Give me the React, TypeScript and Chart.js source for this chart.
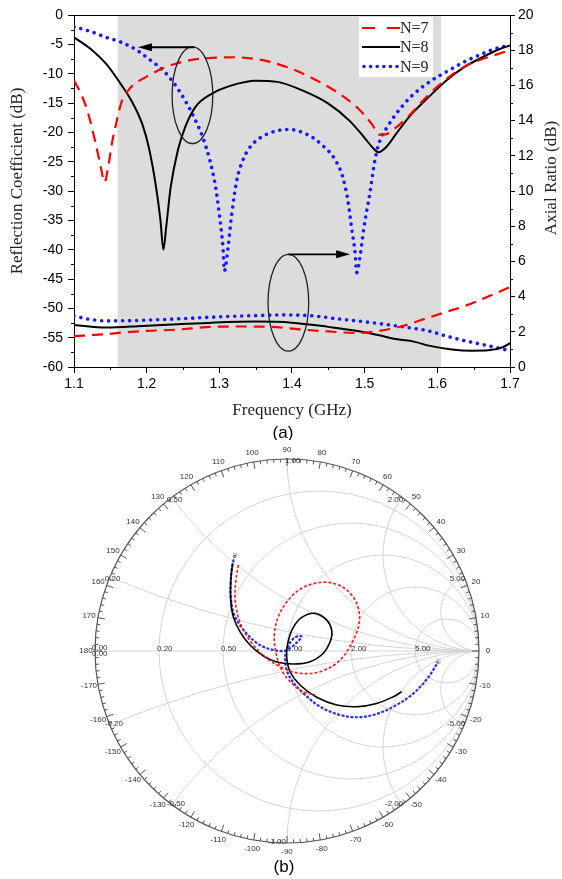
import React, { useEffect, useRef } from 'react';
import { Chart, registerables } from 'chart.js';
Chart.register(...registerables);

const SERIF = '"Liberation Serif","Times New Roman",serif';
const SANS = '"Liberation Sans",Arial,sans-serif';

// ---------- (a) Reflection coefficient (dB), left axis ----------
const s11FreqN7 = [1.10, 1.11, 1.12, 1.13, 1.137, 1.142, 1.147, 1.152, 1.158, 1.165, 1.175, 1.19, 1.20, 1.22, 1.24, 1.26, 1.29, 1.32, 1.35, 1.37, 1.40, 1.43, 1.46, 1.49, 1.51, 1.52, 1.53, 1.54, 1.56, 1.58, 1.60, 1.62, 1.64, 1.66, 1.68, 1.70];
const s11N7 = [-11.2, -13.5, -17, -22, -26, -28.5, -26, -22, -18.5, -15, -12.8, -11.2, -10.5, -9.2, -8.3, -7.7, -7.3, -7.2, -7.5, -8, -9.2, -10.9, -13, -15.8, -18.6, -20.4, -20.3, -19.5, -17.3, -14.6, -12.2, -10.2, -8.6, -7.6, -6.8, -6.0];

const s11FreqN8 = [1.10, 1.125, 1.144, 1.164, 1.179, 1.194, 1.203, 1.213, 1.219, 1.223, 1.227, 1.233, 1.243, 1.253, 1.267, 1.29, 1.317, 1.35, 1.38, 1.415, 1.45, 1.479, 1.499, 1.511, 1.519, 1.529, 1.543, 1.563, 1.588, 1.612, 1.637, 1.662, 1.686, 1.70];
const s11N8 = [-3.8, -6, -8.3, -11.7, -14.6, -18.6, -22.6, -29.4, -35, -40, -36, -29.4, -23, -19.1, -15.7, -13.4, -12, -11.2, -11.4, -12.9, -15.1, -18, -20.8, -22.6, -23.4, -22.6, -20.3, -17.1, -14, -11.2, -8.9, -7.2, -5.8, -5.2];

const s11FreqN9 = [1.10, 1.125, 1.144, 1.164, 1.184, 1.203, 1.223, 1.238, 1.253, 1.265, 1.277, 1.287, 1.295, 1.30, 1.305, 1.307, 1.312, 1.317, 1.324, 1.334, 1.346, 1.366, 1.395, 1.42, 1.44, 1.46, 1.47, 1.477, 1.482, 1.487, 1.489, 1.494, 1.499, 1.507, 1.514, 1.521, 1.531, 1.543, 1.563, 1.588, 1.612, 1.637, 1.662, 1.686, 1.70];
const s11N9 = [-2, -2.9, -3.8, -4.6, -5.8, -7.5, -9.5, -11.7, -14.6, -17.4, -20.8, -24.8, -29.4, -34, -39.6, -43.6, -39.6, -34, -28.2, -24.3, -22, -20.3, -19.5, -20.3, -22, -24.8, -27.7, -31.7, -36.2, -40.8, -43.9, -40.8, -36.2, -30.5, -24.8, -21.4, -19.1, -16.9, -14, -11.5, -9.7, -8, -6.6, -5.5, -5.2];

// ---------- (a) Axial ratio (dB), right axis ----------
const arFreqN7 = [1.10, 1.14, 1.17, 1.20, 1.24, 1.29, 1.33, 1.37, 1.41, 1.45, 1.49, 1.52, 1.55, 1.58, 1.61, 1.64, 1.67, 1.70];
const arN7 = [1.75, 1.85, 1.97, 2.05, 2.12, 2.28, 2.3, 2.28, 2.14, 2.02, 1.93, 2.05, 2.3, 2.7, 3.1, 3.5, 4.0, 4.55];

const arFreqN8 = [1.10, 1.144, 1.194, 1.243, 1.29, 1.35, 1.40, 1.45, 1.49, 1.52, 1.54, 1.565, 1.59, 1.62, 1.647, 1.67, 1.69, 1.70];
const arN8 = [2.39, 2.24, 2.33, 2.43, 2.52, 2.58, 2.52, 2.28, 2.05, 1.8, 1.6, 1.47, 1.2, 1.0, 0.93, 0.95, 1.12, 1.35];

const arFreqN9 = [1.10, 1.12, 1.144, 1.2, 1.25, 1.3, 1.35, 1.39, 1.43, 1.46, 1.51, 1.56, 1.588, 1.612, 1.637, 1.663, 1.695, 1.70];
const arN9 = [2.9, 2.72, 2.62, 2.66, 2.75, 2.85, 2.92, 2.96, 2.9, 2.75, 2.52, 2.24, 2.05, 1.76, 1.5, 1.27, 0.97, 0.92];

const seriesNames = ['N=7', 'N=8', 'N=9'];
const shadedBand = [1.16, 1.605];

// ---------- (b) Smith chart trajectories (reflection coefficient, re / im) ----------
const smithN7: number[][] = [
  [-0.253, 0.448], [-0.266, 0.370], [-0.271, 0.283], [-0.259, 0.196], [-0.227, 0.109], [-0.175, 0.031],
  [-0.106, -0.038], [-0.019, -0.090], [0.068, -0.116], [0.172, -0.108], [0.267, -0.056], [0.337, 0.040],
  [0.377, 0.153], [0.363, 0.248], [0.311, 0.318], [0.241, 0.353], [0.163, 0.356], [0.077, 0.327],
  [0.007, 0.266], [-0.045, 0.179], [-0.066, 0.083], [-0.057, -0.012], [-0.028, -0.099], [0.024, -0.168],
  [0.085, -0.212], [0.146, -0.229],
];
const smithN8: number[][] = [
  [-0.283, 0.457], [-0.293, 0.370], [-0.293, 0.266], [-0.280, 0.179], [-0.245, 0.101], [-0.193, 0.031],
  [-0.123, -0.026], [-0.054, -0.057], [0.033, -0.068], [0.120, -0.056], [0.189, -0.012], [0.228, 0.057],
  [0.233, 0.109], [0.207, 0.161], [0.146, 0.196], [0.077, 0.175], [0.030, 0.118], [0.004, 0.040],
  [-0.002, -0.030], [0.016, -0.108], [0.068, -0.177], [0.155, -0.241], [0.259, -0.281], [0.363, -0.290],
  [0.467, -0.273], [0.554, -0.238], [0.597, -0.212],
];
const smithN9: number[][] = [
  [-0.271, 0.500], [-0.286, 0.439], [-0.293, 0.353], [-0.292, 0.266], [-0.271, 0.179], [-0.219, 0.101],
  [-0.149, 0.036], [-0.071, 0.005], [-0.010, 0.002], [0.030, 0.026], [0.064, 0.057], [0.077, 0.074],
  [0.059, 0.078], [0.030, 0.061], [0.004, 0.022], [-0.009, -0.030], [-0.002, -0.099], [0.030, -0.160],
  [0.085, -0.220], [0.172, -0.290], [0.276, -0.333], [0.371, -0.345], [0.467, -0.328], [0.554, -0.290],
  [0.649, -0.229], [0.728, -0.147], [0.788, -0.056],
];
const smithGridValues = [0.2, 0.5, 1, 2, 5];

// callout ellipses + arrows for (a), in data units (freq, left-axis dB)
const callouts = [
  { cx: 1.263, cy: -13.7, rx: 0.028, ry: 8.25, from: 1.265, to: 1.188, ay: -5.5 },
  { cx: 1.395, cy: -49.05, rx: 0.028, ry: 8.25, from: 1.395, to: 1.48, ay: -40.8 },
];

const toXY = (xs: number[], ys: number[]) => xs.map((x, i) => ({ x, y: ys[i] }));

const RED = '#ff0000';
const BLACK = '#000000';
const BLUE = '#1a1aff';

const decorA = {
  id: 'decorA',
  beforeDatasetsDraw(chart: any) {
    const { ctx, chartArea: a, scales } = chart;
    const x = scales.x;
    ctx.save();
    ctx.fillStyle = '#dcdcdc';
    const x0 = x.getPixelForValue(shadedBand[0]);
    const x1 = x.getPixelForValue(shadedBand[1]);
    ctx.fillRect(x0, a.top, x1 - x0, a.bottom - a.top);
    ctx.restore();
  },
  afterDatasetsDraw(chart: any) {
    const { ctx, chartArea: a, scales } = chart;
    const x = scales.x, y = scales.y, y2 = scales.y2;
    ctx.save();
    // top border
    ctx.strokeStyle = '#000';
    ctx.lineWidth = 1;
    ctx.beginPath();
    ctx.moveTo(a.left, a.top + 0.5);
    ctx.lineTo(a.right, a.top + 0.5);
    ctx.stroke();
    // minor ticks
    ctx.beginPath();
    for (let v = 1.15; v < 1.7; v += 0.1) {
      const px = Math.round(x.getPixelForValue(v)) + 0.5;
      ctx.moveTo(px, a.bottom);
      ctx.lineTo(px, a.bottom + 3);
    }
    for (let v = -57.5; v < 0; v += 5) {
      const py = Math.round(y.getPixelForValue(v)) + 0.5;
      ctx.moveTo(a.left - 3, py);
      ctx.lineTo(a.left, py);
    }
    for (let v = 1; v < 20; v += 2) {
      const py = Math.round(y2.getPixelForValue(v)) + 0.5;
      ctx.moveTo(a.right, py);
      ctx.lineTo(a.right + 3, py);
    }
    ctx.stroke();

    // callouts
    callouts.forEach((c) => {
      const cx = x.getPixelForValue(c.cx);
      const cy = y.getPixelForValue(c.cy);
      const rx = Math.abs(x.getPixelForValue(c.cx + c.rx) - cx);
      const ry = Math.abs(y.getPixelForValue(c.cy + c.ry) - cy);
      ctx.strokeStyle = '#222';
      ctx.lineWidth = 1.3;
      ctx.beginPath();
      ctx.ellipse(cx, cy, rx, ry, 0, 0, Math.PI * 2);
      ctx.stroke();
      const ay = y.getPixelForValue(c.ay);
      const ax0 = x.getPixelForValue(c.from);
      const ax1 = x.getPixelForValue(c.to);
      const dir = Math.sign(ax1 - ax0);
      const head = 14;
      ctx.lineWidth = 1.8;
      ctx.strokeStyle = '#000';
      ctx.beginPath();
      ctx.moveTo(ax0, ay);
      ctx.lineTo(ax1 - dir * head, ay);
      ctx.stroke();
      ctx.fillStyle = '#000';
      ctx.beginPath();
      ctx.moveTo(ax1, ay);
      ctx.lineTo(ax1 - dir * head, ay - 4);
      ctx.lineTo(ax1 - dir * head, ay + 4);
      ctx.closePath();
      ctx.fill();
    });

    // legend
    const lx = 359, ly = 17, lw = 74, lh = 60;
    ctx.fillStyle = '#ffffff';
    ctx.fillRect(lx, ly, lw, lh);
    const rows = [28, 47, 66.5];
    const styles = [
      { color: RED, width: 2.2, dash: [13, 12], cap: 'butt' },
      { color: BLACK, width: 2, dash: [], cap: 'butt' },
      { color: BLUE, width: 3.6, dash: [0.01, 6.6], cap: 'round' },
    ];
    rows.forEach((ry, i) => {
      const s = styles[i];
      ctx.save();
      ctx.strokeStyle = s.color;
      ctx.lineWidth = s.width;
      ctx.setLineDash(s.dash);
      ctx.lineCap = s.cap as CanvasLineCap;
      ctx.beginPath();
      ctx.moveTo(i === 2 ? 364 : 362, ry);
      ctx.lineTo(400, ry);
      ctx.stroke();
      ctx.restore();
      ctx.fillStyle = '#222';
      ctx.font = `16px ${SERIF}`;
      ctx.textAlign = 'left';
      ctx.textBaseline = 'middle';
      ctx.fillText(seriesNames[i], 400, ry + 1);
    });

    // axis titles
    ctx.fillStyle = '#222';
    ctx.font = `17px ${SERIF}`;
    ctx.textAlign = 'center';
    ctx.textBaseline = 'middle';
    ctx.fillText('Frequency (GHz)', (a.left + a.right) / 2, 411);
    ctx.save();
    ctx.translate(18, 181);
    ctx.rotate(-Math.PI / 2);
    ctx.fillText('Reflection Coefficient (dB)', 0, 0);
    ctx.restore();
    ctx.save();
    ctx.translate(552, 178);
    ctx.rotate(-Math.PI / 2);
    ctx.fillText('Axial Ratio (dB)', 0, 0);
    ctx.restore();
    ctx.fillStyle = '#000';
    ctx.font = `17px ${SANS}`;
    ctx.fillText('(a)', 283, 433);
    ctx.restore();
  },
};

const smithPlugin = {
  id: 'smith',
  beforeDatasetsDraw(chart: any) {
    const { ctx, scales } = chart;
    const xs = scales.x, ys = scales.y;
    const P = (re: number, im: number) => [xs.getPixelForValue(re), ys.getPixelForValue(im)];
    const [cx, cy] = P(0, 0);
    const R = xs.getPixelForValue(1) - cx;
    ctx.save();
    // grid
    ctx.save();
    ctx.beginPath();
    ctx.arc(cx, cy, R, 0, Math.PI * 2);
    ctx.clip();
    ctx.strokeStyle = '#d4d4d4';
    ctx.lineWidth = 1;
    smithGridValues.forEach((r) => {
      const [px, py] = P(r / (1 + r), 0);
      ctx.beginPath();
      ctx.arc(px, py, R / (1 + r), 0, Math.PI * 2);
      ctx.stroke();
    });
    smithGridValues.forEach((xv) => {
      [1, -1].forEach((s) => {
        const [px, py] = P(1, s / xv);
        ctx.beginPath();
        ctx.arc(px, py, R / xv, 0, Math.PI * 2);
        ctx.stroke();
      });
    });
    ctx.beginPath();
    ctx.moveTo(cx - R, cy);
    ctx.lineTo(cx + R, cy);
    ctx.stroke();
    ctx.restore();

    // outer circle + ticks
    ctx.strokeStyle = '#555';
    ctx.lineWidth = 1.2;
    ctx.beginPath();
    ctx.arc(cx, cy, R, 0, Math.PI * 2);
    ctx.stroke();
    ctx.lineWidth = 1;
    ctx.beginPath();
    for (let d = -178; d <= 180; d += 2) {
      const t = (d * Math.PI) / 180;
      const len = d % 10 === 0 ? 7 : 3.5;
      const c = Math.cos(t), s = Math.sin(t);
      ctx.moveTo(cx + R * c, cy - R * s);
      ctx.lineTo(cx + (R - len) * c, cy - (R - len) * s);
    }
    ctx.stroke();

    // angle labels
    ctx.fillStyle = '#333';
    ctx.font = `8px ${SANS}`;
    ctx.textAlign = 'center';
    ctx.textBaseline = 'middle';
    for (let d = -170; d <= 180; d += 10) {
      const t = (d * Math.PI) / 180;
      const rr = R + 9;
      ctx.fillText(String(d), cx + rr * Math.cos(t), cy - rr * Math.sin(t));
    }

    // resistance labels on the real axis
    ctx.textAlign = 'left';
    smithGridValues.forEach((r) => {
      const gx = (r - 1) / (r + 1);
      const [px] = P(gx, 0);
      ctx.fillText(r.toFixed(2), px + (r >= 1 ? 0 : -2), cy - 2);
    });
    ctx.fillText('0.00', cx - R - 3, cy - 3);
    ctx.fillText('0.00', cx - R - 3, cy + 3);

    // reactance labels at the rim
    smithGridValues.forEach((xv) => {
      [1, -1].forEach((s) => {
        const gre = (xv * xv - 1) / (xv * xv + 1);
        const gim = (s * 2 * xv) / (xv * xv + 1);
        const [px, py] = P(gre, gim);
        const txt = (s * xv).toFixed(2);
        const dy = s > 0 ? 2 : -1;
        if (xv < 1) {
          ctx.textAlign = 'left';
          ctx.fillText(txt, px - 5, py + dy);
        } else if (xv > 1) {
          ctx.textAlign = 'right';
          ctx.fillText(txt, px + 1, py + dy);
        } else if (s > 0) {
          ctx.textAlign = 'left';
          ctx.fillText(txt, px - 2, py + 2);
        } else {
          ctx.textAlign = 'right';
          ctx.fillText(txt, px - 1, py - 1);
        }
      });
    });
    ctx.restore();
  },
  afterDraw(chart: any) {
    const { ctx } = chart;
    ctx.save();
    ctx.fillStyle = '#000';
    ctx.font = `17px ${SANS}`;
    ctx.textAlign = 'center';
    ctx.textBaseline = 'middle';
    ctx.fillText('(b)', 284, 427);
    ctx.restore();
  },
};

const tickFont = { family: SANS, size: 14 };

export default function App() {
  const refA = useRef<HTMLCanvasElement>(null);
  const refB = useRef<HTMLCanvasElement>(null);

  useEffect(() => {
    document.body.style.margin = '0';
    const lineBase = { pointRadius: 0, fill: false, cubicInterpolationMode: 'monotone' as const };
    const chartA = new Chart(refA.current as HTMLCanvasElement, {
      type: 'line',
      data: {
        datasets: [
          { ...lineBase, label: 'S11 N=7', data: toXY(s11FreqN7, s11N7), yAxisID: 'y', borderColor: RED, borderWidth: 2.2, borderDash: [11, 7] },
          { ...lineBase, label: 'S11 N=8', data: toXY(s11FreqN8, s11N8), yAxisID: 'y', borderColor: BLACK, borderWidth: 2 },
          { ...lineBase, label: 'S11 N=9', data: toXY(s11FreqN9, s11N9), yAxisID: 'y', borderColor: BLUE, borderWidth: 3.6, borderDash: [0.01, 7], borderCapStyle: 'round' },
          { ...lineBase, label: 'AR N=7', data: toXY(arFreqN7, arN7), yAxisID: 'y2', borderColor: RED, borderWidth: 2.2, borderDash: [11, 7] },
          { ...lineBase, label: 'AR N=8', data: toXY(arFreqN8, arN8), yAxisID: 'y2', borderColor: BLACK, borderWidth: 2 },
          { ...lineBase, label: 'AR N=9', data: toXY(arFreqN9, arN9), yAxisID: 'y2', borderColor: BLUE, borderWidth: 3.6, borderDash: [0.01, 7], borderCapStyle: 'round' },
        ] as any,
      },
      options: {
        responsive: false,
        animation: false,
        events: [],
        layout: { padding: { top: 15, left: 0, right: 0, bottom: 0 } },
        plugins: { legend: { display: false }, tooltip: { enabled: false } },
        scales: {
          x: {
            type: 'linear', min: 1.1, max: 1.7,
            afterFit: (s: any) => { s.height = 73; },
            ticks: { stepSize: 0.1, callback: (v: any) => Number(v).toFixed(1), font: tickFont, color: '#000', padding: 3, maxRotation: 0, autoSkip: false },
            grid: { drawOnChartArea: false, tickLength: 6, color: '#000' },
            border: { color: '#000', width: 1 },
          },
          y: {
            type: 'linear', position: 'left', min: -60, max: 0,
            afterFit: (s: any) => { s.width = 74; },
            ticks: { stepSize: 5, font: tickFont, color: '#000', padding: 5, autoSkip: false },
            grid: { drawOnChartArea: false, tickLength: 6, color: '#000' },
            border: { color: '#000', width: 1 },
          },
          y2: {
            type: 'linear', position: 'right', min: 0, max: 20,
            afterFit: (s: any) => { s.width = 52; },
            ticks: { stepSize: 2, font: tickFont, color: '#000', padding: 3, autoSkip: false },
            grid: { drawOnChartArea: false, tickLength: 5, color: '#000' },
            border: { color: '#000', width: 1 },
          },
        },
      } as any,
      plugins: [decorA],
    });

    const pts = (arr: number[][]) => arr.map(([x, y]) => ({ x, y }));
    const chartB = new Chart(refB.current as HTMLCanvasElement, {
      type: 'scatter',
      data: {
        datasets: [
          { data: pts(smithN7), showLine: true, borderColor: '#ff1a1a', borderWidth: 1.6, borderDash: [3, 2], pointRadius: 0, tension: 0.35 },
          { data: pts(smithN8), showLine: true, borderColor: '#000', borderWidth: 1.6, pointRadius: 0, tension: 0.35 },
          {
            data: pts(smithN9), showLine: true, borderColor: '#2a35e0', borderWidth: 2.2, borderDash: [3, 1.5], tension: 0.35,
            pointRadius: (c: any) => (c.dataIndex === 0 || c.dataIndex === smithN9.length - 1 ? 2.5 : 0),
            pointStyle: 'rect', pointBorderColor: '#b0b0b0', pointBackgroundColor: 'rgba(0,0,0,0)', pointBorderWidth: 1,
          },
        ] as any,
      },
      options: {
        responsive: false,
        animation: false,
        events: [],
        layout: { padding: { left: 95, right: 83, top: 19, bottom: 36 } },
        plugins: { legend: { display: false }, tooltip: { enabled: false } },
        scales: {
          x: { type: 'linear', min: -1, max: 1, display: false },
          y: { type: 'linear', min: -1, max: 1, display: false },
        },
      } as any,
      plugins: [smithPlugin],
    });

    return () => {
      chartA.destroy();
      chartB.destroy();
    };
  }, []);

  return (
    <div style={{ width: 562, height: 879, background: '#fff' }}>
      <canvas ref={refA} width={562} height={440} style={{ display: 'block' }} />
      <canvas ref={refB} width={562} height={439} style={{ display: 'block' }} />
    </div>
  );
}
